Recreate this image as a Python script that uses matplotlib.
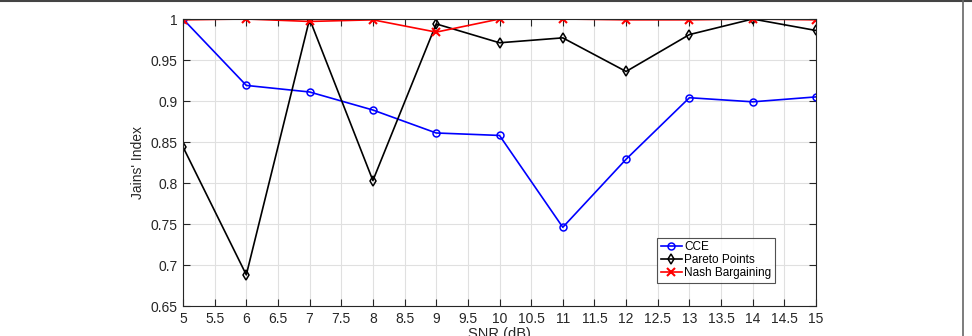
import numpy as np
import matplotlib.pyplot as plt
from matplotlib.lines import Line2D

snr = [5, 6, 7, 8, 9, 10, 11, 12, 13, 14, 15]
cce = [1.0, 0.919, 0.911, 0.889, 0.861, 0.858, 0.746, 0.829, 0.904, 0.899, 0.905]
pareto = [0.844, 0.688, 1.0, 0.803, 0.994, 0.971, 0.977, 0.936, 0.981, 1.0, 0.986]
nash = [0.999, 1.0, 0.997, 0.999, 0.984, 1.0, 1.0, 0.999, 0.999, 1.0, 0.999]

plt.rcParams['font.family'] = ['Liberation Sans', 'DejaVu Sans']

fig = plt.figure(figsize=(9.72, 3.36), dpi=100)
ax = fig.add_axes([183/972, 30/336, 633/972, 287/336])

ax.plot(snr, cce, color='#0000ff', lw=1.2, marker='o', ms=5, mfc='none', mew=1.1, label='CCE')
ax.plot(snr, pareto, color='black', lw=1.2, marker='d', ms=5, mfc='none', mew=1.1, label='Pareto Points')
ax.plot(snr, nash, color='#ff0000', lw=1.2, marker='x', ms=6, mew=1.5, label='Nash Bargaining')

ax.set_xlim(5, 15)
ax.set_ylim(0.65, 1.0)
ax.set_xticks(np.arange(5, 15.01, 0.5))
ax.set_xticklabels(['%g' % v for v in np.arange(5, 15.01, 0.5)])
ax.set_yticks(np.arange(0.65, 1.001, 0.05))
ax.set_yticklabels(['0.65', '0.7', '0.75', '0.8', '0.85', '0.9', '0.95', '1'])
ax.grid(True, color='#e0e0e0', lw=0.8)
ax.set_axisbelow(True)
ax.tick_params(direction='in', top=True, right=True, length=5, labelsize=10, colors='#262626', pad=4)
for s in ax.spines.values():
    s.set_color('#262626')
    s.set_linewidth(0.8)

ax.set_xlabel('SNR (dB)', fontsize=10.5, color='#262626', labelpad=1)
ax.set_ylabel("Jains' Index", fontsize=10, color='#262626', labelpad=4)

leg = ax.legend(loc='lower right', bbox_to_anchor=(0.935, 0.08), fontsize=8.5,
                frameon=True, fancybox=False, edgecolor='#262626', handlelength=1.8,
                borderpad=0.3, labelspacing=0.1, handletextpad=0.2, borderaxespad=0)
leg.get_frame().set_linewidth(0.8)

# thin outer frame visible on the reference image
fig.add_artist(Line2D([0, 1], [0.997, 0.997], transform=fig.transFigure, color='#444444', lw=1.5))
fig.add_artist(Line2D([963/972, 963/972], [0, 1], transform=fig.transFigure, color='#666666', lw=1.2))

fig.savefig('out.png', dpi=100)
